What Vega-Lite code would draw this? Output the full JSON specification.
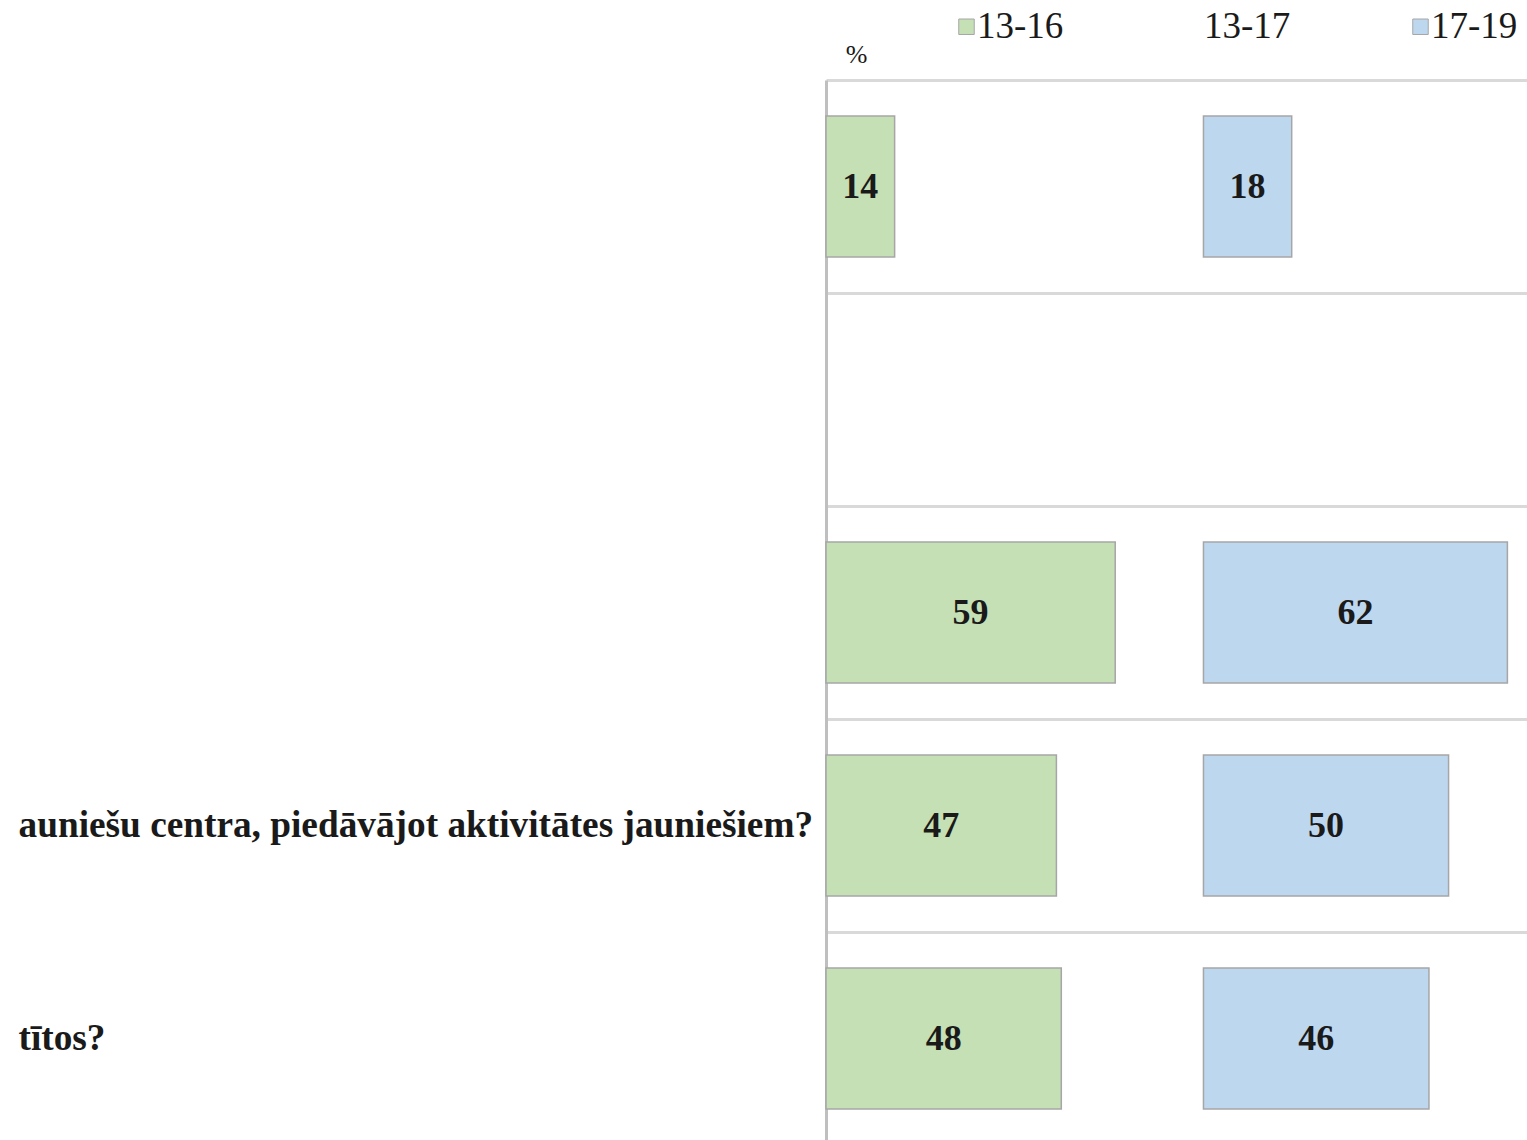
{
  "$schema": "https://vega.github.io/schema/vega-lite/v6.json",
  "autosize": {"type": "none"},
  "padding": {"left": 826, "top": 80, "right": 0, "bottom": 0},
  "width": 701,
  "height": 1060,
  "background": "white",
  "config": {"view": {"stroke": null}, "font": "Times New Roman, Liberation Serif, serif"},
  "data": {
    "values": [
      {"question": "Q1", "series": "13-16", "value": 14},
      {"question": "Q1", "series": "13-17", "value": 63},
      {"question": "Q1", "series": "17-19", "value": 18},
      {"question": "Q3", "series": "13-16", "value": 59},
      {"question": "Q3", "series": "13-17", "value": 18},
      {"question": "Q3", "series": "17-19", "value": 62},
      {"question": "Q4", "series": "13-16", "value": 47},
      {"question": "Q4", "series": "13-17", "value": 30},
      {"question": "Q4", "series": "17-19", "value": 50},
      {"question": "Q5", "series": "13-16", "value": 48},
      {"question": "Q5", "series": "13-17", "value": 29},
      {"question": "Q5", "series": "17-19", "value": 46}
    ]
  },
  "encoding": {
    "y": {
      "field": "question",
      "type": "nominal",
      "sort": null,
      "scale": {"domain": ["Q1", "Q2", "Q3", "Q4", "Q5"], "range": [0, 1065], "paddingInner": 0, "paddingOuter": 0},
      "axis": {
        "title": null,
        "ticks": false,
        "tickSize": 0,
        "labelAlign": "left",
        "labelBaseline": "middle",
        "labelPadding": 808,
        "labelFont": "Times New Roman, Liberation Serif, serif",
        "labelFontWeight": "bold",
        "labelFontSize": 37.3,
        "labelColor": "#1a1a1a",
        "labelLimit": 0,
        "labelExpr": "datum.value == 'Q4' ? 'auniešu centra, piedāvājot aktivitātes jauniešiem?' : datum.value == 'Q5' ? 'tītos?' : ''",
        "domainColor": "#bfbfbf",
        "domainWidth": 3,
        "grid": true,
        "bandPosition": 0,
        "gridColor": "#d9d9d9",
        "gridWidth": 3
      }
    },
    "x": {
      "field": "value",
      "type": "quantitative",
      "stack": "zero",
      "scale": {"domain": [0, 143], "nice": false},
      "axis": {
        "orient": "top",
        "title": "%",
        "titleFont": "Times New Roman, Liberation Serif, serif",
        "titleFontWeight": "normal",
        "titleFontSize": 26,
        "titleColor": "#1a1a1a",
        "titleX": 30,
        "titleY": -26,
        "titleAlign": "center",
        "titleBaseline": "middle",
        "labels": false,
        "ticks": false,
        "domain": false,
        "grid": false
      }
    },
    "order": {"field": "series"}
  },
  "layer": [
    {
      "mark": {"type": "bar", "height": {"band": 0.662}, "strokeWidth": 1.5},
      "encoding": {
        "color": {
          "field": "series",
          "type": "nominal",
          "scale": {"domain": ["13-16", "13-17", "17-19"], "range": ["#c5e0b4", "transparent", "#bdd7ee"]},
          "legend": {
            "title": null,
            "orient": "none",
            "direction": "horizontal",
            "legendX": 122,
            "legendY": -72,
            "symbolType": "square",
            "symbolSize": 240,
            "symbolStrokeWidth": 1,
            "labelFont": "Times New Roman, Liberation Serif, serif",
            "labelFontSize": 37,
            "labelColor": "#1a1a1a",
            "labelOffset": -8,
            "columnPadding": 111
          }
        },
        "stroke": {
          "field": "series",
          "type": "nominal",
          "scale": {"domain": ["13-16", "13-17", "17-19"], "range": ["#a6a6a6", "transparent", "#a6a6a6"]}
        }
      }
    },
    {
      "mark": {"type": "text", "font": "Times New Roman, Liberation Serif, serif", "fontWeight": "bold", "fontSize": 36, "color": "#1a1a1a", "align": "center", "baseline": "middle"},
      "encoding": {
        "x": {"field": "value", "type": "quantitative", "stack": "zero", "bandPosition": 0.5},
        "detail": {"field": "series"},
        "text": {"field": "value", "type": "quantitative"},
        "opacity": {"condition": {"test": "datum.series === '13-17'", "value": 0}, "value": 1}
      }
    }
  ]
}
